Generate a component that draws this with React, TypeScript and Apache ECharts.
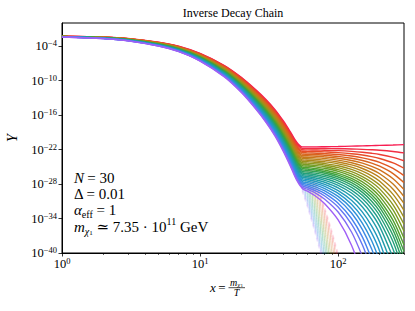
import React, { useEffect, useRef } from "react";
import * as echarts from "echarts";

// ---------------- data (log10 Y values) ----------------
const TITLE = "Inverse Decay Chain";
const X_MIN = 1;
const X_MAX = 300;
const Y_MIN = 1e-40;
const Y_MAX = 1;
const Y_TICK_EXPONENTS = [-40, -34, -28, -22, -16, -10, -4];
const X_TICK_EXPONENTS = [0, 1, 2];
const X_MINOR_TICKS = [2, 3, 4, 5, 6, 7, 8, 9, 20, 30, 40, 50, 60, 70, 80, 90, 200, 300];

// x grid before / at freeze-out
const PRE_X = [1, 2, 3, 5, 7, 10, 15, 20, 25, 30, 35, 40, 45, 50, 55];
// x grid after freeze-out
const TAIL_X = [60, 70, 80, 100, 125, 150, 175, 200, 250, 300];
// x grid of the dashed equilibrium curves
const EQ_X = [55, 60, 70, 80, 90, 100];

// log10 Y of the 30 species (0 = lightest, red ... 29 = heaviest, purple)
const PRE_LOGY: number[][] = [
  [-2.30, -2.45, -2.70, -3.35, -4.05, -5.30, -7.40, -9.50, -11.50, -13.30, -15.10, -17.00, -18.90, -20.70, -21.55],
  [-2.30, -2.46, -2.71, -3.37, -4.08, -5.35, -7.47, -9.59, -11.61, -13.44, -15.26, -17.18, -19.11, -20.93, -21.80],
  [-2.31, -2.47, -2.73, -3.40, -4.11, -5.39, -7.54, -9.68, -11.73, -13.57, -15.42, -17.36, -19.31, -21.16, -22.05],
  [-2.31, -2.48, -2.74, -3.42, -4.15, -5.44, -7.60, -9.77, -11.84, -13.71, -15.58, -17.55, -19.52, -21.38, -22.30],
  [-2.32, -2.49, -2.75, -3.44, -4.18, -5.48, -7.67, -9.86, -11.96, -13.85, -15.74, -17.73, -19.72, -21.61, -22.55],
  [-2.32, -2.50, -2.77, -3.46, -4.21, -5.53, -7.74, -9.96, -12.07, -13.99, -15.90, -17.91, -19.93, -21.84, -22.80],
  [-2.33, -2.50, -2.78, -3.49, -4.24, -5.57, -7.81, -10.05, -12.18, -14.12, -16.05, -18.09, -20.13, -22.07, -23.05],
  [-2.33, -2.51, -2.80, -3.51, -4.27, -5.62, -7.88, -10.14, -12.30, -14.26, -16.21, -18.27, -20.34, -22.30, -23.30],
  [-2.34, -2.52, -2.81, -3.53, -4.31, -5.66, -7.95, -10.23, -12.41, -14.40, -16.37, -18.46, -20.54, -22.52, -23.55],
  [-2.34, -2.53, -2.82, -3.56, -4.34, -5.71, -8.01, -10.32, -12.53, -14.53, -16.53, -18.64, -20.75, -22.75, -23.80],
  [-2.35, -2.54, -2.84, -3.58, -4.37, -5.76, -8.08, -10.41, -12.64, -14.67, -16.69, -18.82, -20.95, -22.98, -24.05],
  [-2.35, -2.55, -2.85, -3.60, -4.40, -5.80, -8.15, -10.50, -12.75, -14.81, -16.85, -19.00, -21.16, -23.21, -24.30],
  [-2.36, -2.56, -2.86, -3.62, -4.43, -5.85, -8.22, -10.59, -12.87, -14.94, -17.01, -19.18, -21.36, -23.44, -24.55],
  [-2.36, -2.57, -2.88, -3.65, -4.46, -5.89, -8.29, -10.68, -12.98, -15.08, -17.17, -19.37, -21.57, -23.66, -24.80],
  [-2.36, -2.58, -2.89, -3.67, -4.50, -5.94, -8.36, -10.77, -13.10, -15.22, -17.33, -19.55, -21.77, -23.89, -25.05],
  [-2.37, -2.59, -2.91, -3.69, -4.53, -5.98, -8.42, -10.87, -13.21, -15.36, -17.49, -19.73, -21.98, -24.12, -25.30],
  [-2.37, -2.60, -2.92, -3.71, -4.56, -6.03, -8.49, -10.96, -13.32, -15.49, -17.64, -19.91, -22.18, -24.35, -25.55],
  [-2.38, -2.60, -2.93, -3.74, -4.59, -6.07, -8.56, -11.05, -13.44, -15.63, -17.80, -20.09, -22.39, -24.58, -25.80],
  [-2.38, -2.61, -2.95, -3.76, -4.62, -6.12, -8.63, -11.14, -13.55, -15.77, -17.96, -20.28, -22.59, -24.80, -26.05],
  [-2.39, -2.62, -2.96, -3.78, -4.66, -6.16, -8.70, -11.23, -13.67, -15.90, -18.12, -20.46, -22.80, -25.03, -26.30],
  [-2.39, -2.63, -2.97, -3.81, -4.69, -6.21, -8.77, -11.32, -13.78, -16.04, -18.28, -20.64, -23.00, -25.26, -26.55],
  [-2.40, -2.64, -2.99, -3.83, -4.72, -6.26, -8.83, -11.41, -13.89, -16.18, -18.44, -20.82, -23.21, -25.49, -26.80],
  [-2.40, -2.65, -3.00, -3.85, -4.75, -6.30, -8.90, -11.50, -14.01, -16.31, -18.60, -21.00, -23.41, -25.72, -27.05],
  [-2.41, -2.66, -3.02, -3.87, -4.78, -6.35, -8.97, -11.59, -14.12, -16.45, -18.76, -21.19, -23.62, -25.94, -27.30],
  [-2.41, -2.67, -3.03, -3.90, -4.82, -6.39, -9.04, -11.68, -14.24, -16.59, -18.92, -21.37, -23.82, -26.17, -27.55],
  [-2.42, -2.68, -3.04, -3.92, -4.85, -6.44, -9.11, -11.78, -14.35, -16.73, -19.08, -21.55, -24.03, -26.40, -27.80],
  [-2.42, -2.69, -3.06, -3.94, -4.88, -6.48, -9.18, -11.87, -14.46, -16.86, -19.23, -21.73, -24.23, -26.63, -28.05],
  [-2.42, -2.70, -3.07, -3.97, -4.91, -6.53, -9.24, -11.96, -14.58, -17.00, -19.39, -21.91, -24.44, -26.86, -28.30],
  [-2.43, -2.70, -3.08, -3.99, -4.94, -6.57, -9.31, -12.05, -14.69, -17.14, -19.55, -22.10, -24.64, -27.08, -28.55],
  [-2.43, -2.71, -3.10, -4.01, -4.98, -6.62, -9.38, -12.14, -14.81, -17.27, -19.71, -22.28, -24.85, -27.31, -28.80],
];

const TAIL_LOGY: number[][] = [
  [-21.55, -21.55, -21.52, -21.48, -21.42, -21.37, -21.32, -21.28, -21.22, -21.16],
  [-21.81, -21.82, -21.83, -21.86, -21.91, -21.98, -22.05, -22.13, -22.34, -22.58],
  [-22.06, -22.09, -22.12, -22.20, -22.33, -22.48, -22.66, -22.86, -23.36, -23.96],
  [-22.32, -22.36, -22.42, -22.54, -22.73, -22.96, -23.24, -23.56, -24.32, -25.26],
  [-22.58, -22.64, -22.71, -22.87, -23.13, -23.45, -23.82, -24.25, -25.29, -26.55],
  [-22.83, -22.91, -22.99, -23.20, -23.52, -23.91, -24.37, -24.91, -26.19, -27.76],
  [-23.09, -23.18, -23.28, -23.52, -23.91, -24.37, -24.93, -25.56, -27.09, -28.96],
  [-23.35, -23.45, -23.57, -23.85, -24.30, -24.84, -25.48, -26.22, -28.00, -30.17],
  [-23.60, -23.72, -23.85, -24.18, -24.68, -25.30, -26.03, -26.88, -28.90, -31.38],
  [-23.86, -23.99, -24.14, -24.50, -25.07, -25.77, -26.59, -27.53, -29.81, -32.58],
  [-24.11, -24.26, -24.43, -24.83, -25.46, -26.23, -27.14, -28.19, -30.71, -33.79],
  [-24.37, -24.53, -24.72, -25.16, -25.85, -26.70, -27.70, -28.85, -31.62, -35.00],
  [-24.63, -24.80, -25.00, -25.49, -26.24, -27.16, -28.25, -29.51, -32.52, -36.21],
  [-24.88, -25.07, -25.29, -25.81, -26.63, -27.62, -28.80, -30.16, -33.42, -37.41],
  [-25.14, -25.34, -25.58, -26.14, -27.02, -28.09, -29.36, -30.82, -34.33, -38.62],
  [-25.40, -25.61, -25.86, -26.46, -27.39, -28.53, -29.88, -31.44, -35.17, -39.74],
  [-25.65, -25.88, -26.14, -26.78, -27.77, -28.98, -30.41, -32.06, -36.02, -40.86],
  [-25.91, -26.15, -26.44, -27.11, -28.17, -29.46, -30.99, -32.75, -36.98, -42.15],
  [-26.17, -26.43, -26.73, -27.46, -28.60, -29.98, -31.63, -33.52, -38.06, -43.62],
  [-26.43, -26.71, -27.04, -27.83, -29.06, -30.57, -32.34, -34.40, -39.33, -45.35],
  [-26.69, -27.00, -27.36, -28.22, -29.57, -31.22, -33.17, -35.42, -40.82],
  [-26.95, -27.30, -27.70, -28.66, -30.16, -32.00, -34.17, -36.67, -42.68],
  [-27.22, -27.61, -28.06, -29.14, -30.83, -32.89, -35.33, -38.14, -44.89],
  [-27.49, -27.93, -28.43, -29.64, -31.52, -33.82, -36.55, -39.69, -47.22],
  [-27.77, -28.25, -28.81, -30.16, -32.26, -34.83, -37.87, -41.38],
  [-28.04, -28.58, -29.21, -30.71, -33.05, -35.92, -39.31, -43.22],
  [-28.32, -28.94, -29.64, -31.34, -34.00, -37.24, -41.08],
  [-28.61, -29.29, -30.09, -32.00, -34.98, -38.62, -42.93],
  [-28.91, -29.71, -30.64, -32.87, -36.35, -40.61],
  [-29.25, -30.26, -31.44, -34.25, -38.64, -44.01],
];

// dashed equilibrium curves (log10 Y_eq) after freeze-out
const EQ_LOGY: number[][] = [
  [-22.00, -24.00, -28.20, -32.30, -36.30, -40.30],
  [-22.25, -24.27, -28.52, -32.66, -36.71, -40.76],
  [-22.50, -24.55, -28.84, -33.03, -37.12, -41.21],
  [-22.75, -24.82, -29.16, -33.39, -37.53, -41.67],
  [-23.00, -25.09, -29.47, -33.76, -37.94, -42.12],
  [-23.25, -25.37, -29.79, -34.12, -38.35, -42.58],
  [-23.50, -25.64, -30.11, -34.48, -38.76, -43.03],
  [-23.75, -25.91, -30.43, -34.85, -39.17, -43.49],
  [-24.00, -26.18, -30.75, -35.21, -39.58, -43.94],
  [-24.25, -26.46, -31.07, -35.58, -39.99, -44.40],
  [-24.50, -26.73, -31.39, -35.94, -40.40],
  [-24.75, -27.00, -31.70, -36.30, -40.80],
  [-25.00, -27.28, -32.02, -36.67, -41.21],
  [-25.25, -27.55, -32.34, -37.03, -41.62],
  [-25.50, -27.82, -32.66, -37.40, -42.03],
  [-25.75, -28.10, -32.98, -37.76, -42.44],
  [-26.00, -28.37, -33.30, -38.12, -42.85],
  [-26.25, -28.64, -33.61, -38.49, -43.26],
  [-26.50, -28.91, -33.93, -38.85, -43.67],
  [-26.75, -29.19, -34.25, -39.22, -44.08],
  [-27.00, -29.46, -34.57, -39.58, -44.49],
  [-27.25, -29.73, -34.89, -39.94, -44.90],
  [-27.50, -30.01, -35.21, -40.31],
  [-27.75, -30.28, -35.53, -40.67],
  [-28.00, -30.55, -35.84, -41.04],
  [-28.25, -30.83, -36.16, -41.40],
  [-28.50, -31.10, -36.48, -41.76],
  [-28.75, -31.37, -36.80, -42.13],
  [-29.00, -31.64, -37.12, -42.49],
  [-29.25, -31.92, -37.44, -42.86],
];

// ---------------- styling ----------------
const SERIF = "'Liberation Serif', 'DejaVu Serif', serif";
const KEY_COLORS = [
  [248, 30, 82],
  [232, 75, 40],
  [210, 110, 28],
  [178, 135, 28],
  [130, 155, 32],
  [70, 162, 50],
  [36, 160, 112],
  [32, 158, 160],
  [36, 150, 206],
  [72, 130, 240],
  [160, 95, 246],
];

function lineColor(t: number): string {
  const p = t * (KEY_COLORS.length - 1);
  const k = Math.min(Math.floor(p), KEY_COLORS.length - 2);
  const f = p - k;
  const a = KEY_COLORS[k];
  const b = KEY_COLORS[k + 1];
  const c = a.map((v, j) => Math.round(v + (b[j] - v) * f));
  return `rgb(${c[0]},${c[1]},${c[2]})`;
}

const expText = (e: number) => (e < 0 ? "\u2212" + Math.abs(e) : String(e));

export default function App() {
  const ref = useRef<HTMLDivElement>(null);

  useEffect(() => {
    document.body.style.margin = "0";
    if (!ref.current) return;
    const chart = echarts.init(ref.current, null, { renderer: "svg" });
    const n = PRE_LOGY.length;

    const series: any[] = [];
    EQ_LOGY.forEach((row, i) => {
      series.push({
        type: "line",
        xAxisIndex: 0,
        yAxisIndex: 0,
        data: row.map((v, j) => [EQ_X[j], Math.pow(10, v)]),
        symbol: "none",
        smooth: 0.3,
        z: 1,
        silent: true,
        lineStyle: { color: lineColor(i / (n - 1)), width: 1.8, type: [4, 3], opacity: 0.14 },
      });
    });
    PRE_LOGY.forEach((pre, i) => {
      const data = [
        ...pre.map((v, j) => [PRE_X[j], Math.pow(10, v)]),
        ...TAIL_LOGY[i].map((v, j) => [TAIL_X[j], Math.pow(10, v)]),
      ];
      series.push({
        type: "line",
        xAxisIndex: 0,
        yAxisIndex: 0,
        data,
        symbol: "none",
        smooth: 0.3,
        z: 2,
        silent: true,
        clip: true,
        lineStyle: { color: lineColor(i / (n - 1)), width: 1.4 },
      });
    });

    const tickRich = {
      b: { fontFamily: SERIF, fontSize: 12.5, color: "#000", lineHeight: 15 },
      s: { fontFamily: SERIF, fontSize: 8.5, color: "#000", lineHeight: 9, verticalAlign: "top" },
    };

    const annRich = {
      r: { fontFamily: SERIF, fontSize: 15, color: "#000", lineHeight: 20 },
      i: { fontFamily: SERIF, fontSize: 15, fontStyle: "italic", color: "#000", lineHeight: 20 },
      sub: { fontFamily: SERIF, fontSize: 10, color: "#000", lineHeight: 12, verticalAlign: "bottom" },
      subi: { fontFamily: SERIF, fontSize: 10, fontStyle: "italic", color: "#000", lineHeight: 12, verticalAlign: "bottom" },
      subsub: { fontFamily: SERIF, fontSize: 7, color: "#000", lineHeight: 8, verticalAlign: "bottom" },
      sup: { fontFamily: SERIF, fontSize: 10, color: "#000", lineHeight: 10, verticalAlign: "top" },
    };

    const annText = (y: number, text: string) => ({
      type: "text",
      x: 74,
      y,
      style: { text, rich: annRich, verticalAlign: "middle", align: "left", fill: "#000" },
    });

    chart.setOption({
      animation: false,
      backgroundColor: "#fff",
      grid: {
        left: 62,
        right: 11,
        top: 23,
        bottom: 58,
        show: true,
        borderColor: "#000",
        borderWidth: 1,
        containLabel: false,
      },
      xAxis: [
        {
          type: "log",
          logBase: 10,
          min: X_MIN,
          max: X_MAX,
          position: "bottom",
          axisLine: { show: true, lineStyle: { color: "#000", width: 1 } },
          axisTick: {
            show: true,
            inside: false,
            length: 3.5,
            lineStyle: { color: "#000", width: 0.8 },
            customValues: X_TICK_EXPONENTS.map((e) => Math.pow(10, e)),
          },
          axisLabel: {
            margin: 3,
            customValues: X_TICK_EXPONENTS.map((e) => Math.pow(10, e)),
            formatter: (v: number) => `{b|10}{s|${expText(Math.round(Math.log10(v)))}}`,
            rich: tickRich,
          },
          splitLine: { show: false },
          minorTick: { show: false },
        },
        {
          type: "log",
          logBase: 10,
          min: X_MIN,
          max: X_MAX,
          position: "bottom",
          axisLine: { show: false },
          axisTick: {
            show: true,
            inside: false,
            length: 2,
            lineStyle: { color: "#000", width: 0.6 },
            customValues: X_MINOR_TICKS,
          },
          axisLabel: { show: false },
          splitLine: { show: false },
        },
      ],
      yAxis: {
        type: "log",
        logBase: 10,
        min: Y_MIN,
        max: Y_MAX,
        axisLine: { show: true, lineStyle: { color: "#000", width: 1 } },
        axisTick: {
          show: true,
          inside: false,
          length: 3.5,
          lineStyle: { color: "#000", width: 0.8 },
          customValues: Y_TICK_EXPONENTS.map((e) => Math.pow(10, e)),
        },
        axisLabel: {
          margin: 5,
          customValues: Y_TICK_EXPONENTS.map((e) => Math.pow(10, e)),
          formatter: (v: number) => `{b|10}{s|${expText(Math.round(Math.log10(v)))}}`,
          rich: tickRich,
        },
        splitLine: { show: false },
        minorTick: { show: false },
      },
      series,
      graphic: [
        {
          type: "text",
          x: 233,
          y: 13,
          style: {
            text: TITLE,
            fontFamily: SERIF,
            fontSize: 12,
            fill: "#000",
            align: "center",
            verticalAlign: "middle",
          },
        },
        {
          type: "text",
          x: 12.5,
          y: 138,
          rotation: Math.PI / 2,
          style: {
            text: "Y",
            fontFamily: SERIF,
            fontSize: 14,
            fontStyle: "italic",
            fill: "#000",
            align: "center",
            verticalAlign: "middle",
          },
        },
        annText(178, "{i|N} {r|= 30}"),
        annText(193.5, "{r|\u0394 = 0.01}"),
        annText(209.5, "{i|\u03b1}{sub|eff}{r| = 1}"),
        annText(226.5, "{i|m}{subi|\u03c7}{subsub|1}{r| \u2243 7.35 \u00b7 10}{sup|11}{r| GeV}"),
        {
          type: "text",
          x: 213,
          y: 287,
          style: {
            text: "x",
            fontFamily: SERIF,
            fontSize: 13,
            fontStyle: "italic",
            fill: "#000",
            align: "center",
            verticalAlign: "middle",
          },
        },
        {
          type: "text",
          x: 222,
          y: 287,
          style: {
            text: "=",
            fontFamily: SERIF,
            fontSize: 13,
            fill: "#000",
            align: "center",
            verticalAlign: "middle",
          },
        },
        {
          type: "text",
          x: 236.5,
          y: 282.5,
          style: {
            text: "{i|m}{sub|\u03c7}{subsub|1}",
            rich: {
              i: { fontFamily: SERIF, fontSize: 10, fontStyle: "italic", lineHeight: 11 },
              sub: { fontFamily: SERIF, fontSize: 7, fontStyle: "italic", lineHeight: 8, verticalAlign: "bottom" },
              subsub: { fontFamily: SERIF, fontSize: 5, lineHeight: 6, verticalAlign: "bottom" },
            },
            align: "center",
            verticalAlign: "middle",
            fill: "#000",
          },
        },
        {
          type: "line",
          shape: { x1: 228.5, y1: 287.7, x2: 245, y2: 287.7 },
          style: { stroke: "#000", lineWidth: 0.7 },
        },
        {
          type: "text",
          x: 236.5,
          y: 292.5,
          style: {
            text: "T",
            fontFamily: SERIF,
            fontSize: 10,
            fontStyle: "italic",
            fill: "#000",
            align: "center",
            verticalAlign: "middle",
          },
        },
      ],
    });

    return () => {
      chart.dispose();
    };
  }, []);

  return <div ref={ref} style={{ width: 415, height: 311 }} />;
}
